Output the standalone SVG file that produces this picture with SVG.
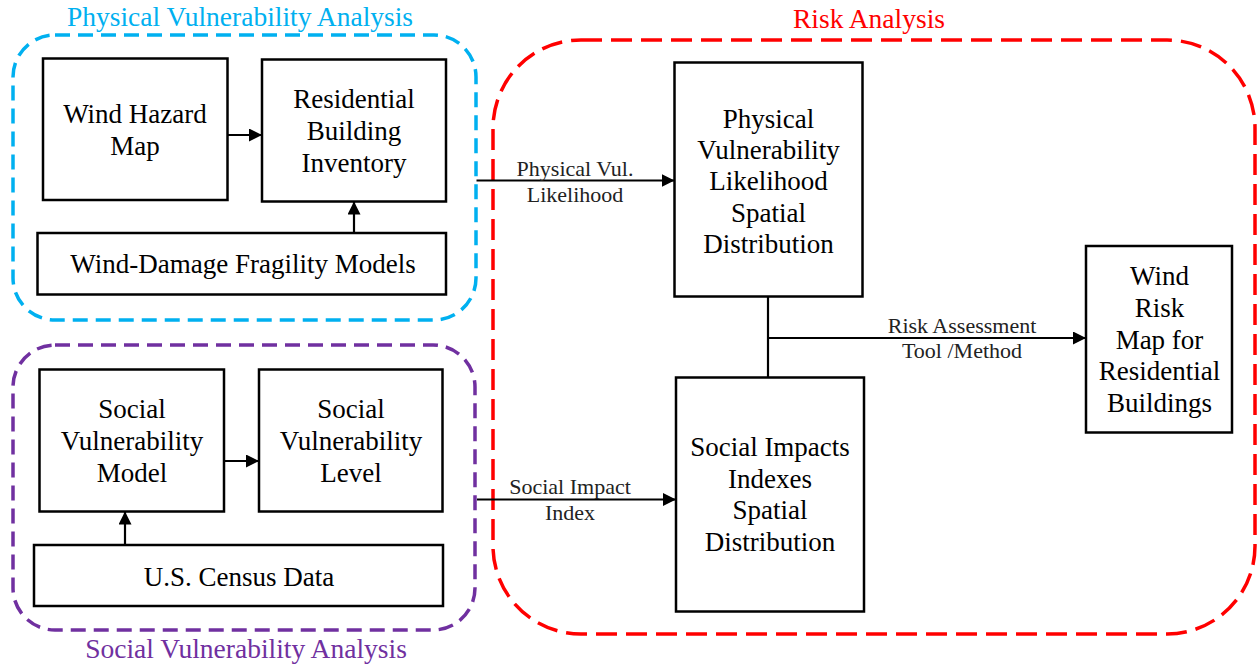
<svg xmlns="http://www.w3.org/2000/svg" width="1257" height="665" viewBox="0 0 1257 665">
<style>
  .box{fill:#fff;stroke:#000;stroke-width:2.5}
  .t{font-family:"Liberation Serif","Times New Roman",serif;font-size:27px;fill:#000;text-anchor:middle}
  .lbl{font-family:"Liberation Serif","Times New Roman",serif;font-size:22px;fill:#222;text-anchor:middle}
  .title{font-family:"Liberation Serif","Times New Roman",serif;font-size:27.5px;text-anchor:middle}
  .grp{fill:none;stroke-width:3.5}
  .conn{fill:none;stroke:#000;stroke-width:2.2}
</style>
<defs>
  <marker id="arr" markerUnits="userSpaceOnUse" markerWidth="13" markerHeight="13" refX="13" refY="6.5" orient="auto">
    <path d="M0,0 L13,6.5 L0,13 z" fill="#000"/>
  </marker>
</defs>
<rect width="1257" height="665" fill="#fff"/>

<g id="group-physical">
  <rect class="grp" x="13" y="35" width="463" height="285" rx="42" ry="42" stroke="#00B0F0" stroke-dasharray="15 8"/>
  <text class="title" x="240" y="26" fill="#00B0F0">Physical Vulnerability Analysis</text>
</g>
<g id="group-social">
  <rect class="grp" x="13" y="345" width="462" height="285" rx="42" ry="42" stroke="#7030A0" stroke-dasharray="15 8"/>
  <text class="title" x="246" y="658" fill="#7030A0">Social Vulnerability Analysis</text>
</g>
<g id="group-risk">
  <rect class="grp" x="493" y="40" width="762" height="594" rx="88" ry="88" stroke="#FF0000" stroke-dasharray="21 9"/>
  <text class="title" x="869" y="28" fill="#FF0000">Risk Analysis</text>
</g>

<g id="wind-hazard-map">
  <rect class="box" x="43" y="58.5" width="184.5" height="141.5"/>
  <text class="t" x="135" y="123">Wind Hazard</text>
  <text class="t" x="135" y="155">Map</text>
</g>
<g id="residential-building-inventory">
  <rect class="box" x="262" y="59.5" width="184" height="142"/>
  <text class="t" x="354" y="108">Residential</text>
  <text class="t" x="354" y="140">Building</text>
  <text class="t" x="354" y="172">Inventory</text>
</g>
<g id="wind-damage-fragility-models">
  <rect class="box" x="37.5" y="233" width="408.5" height="61.5"/>
  <text class="t" x="243" y="273">Wind-Damage Fragility Models</text>
</g>
<g id="social-vulnerability-model">
  <rect class="box" x="39.5" y="369.5" width="184.5" height="142"/>
  <text class="t" x="132" y="418">Social</text>
  <text class="t" x="132" y="449.5">Vulnerability</text>
  <text class="t" x="132" y="481.5">Model</text>
</g>
<g id="social-vulnerability-level">
  <rect class="box" x="259" y="369.5" width="183.5" height="142"/>
  <text class="t" x="351" y="418">Social</text>
  <text class="t" x="351" y="449.5">Vulnerability</text>
  <text class="t" x="351" y="481.5">Level</text>
</g>
<g id="us-census-data">
  <rect class="box" x="34" y="545" width="409" height="61"/>
  <text class="t" x="239" y="586">U.S. Census Data</text>
</g>
<g id="physical-vulnerability-likelihood">
  <rect class="box" x="674.5" y="62.5" width="188" height="234"/>
  <text class="t" x="768.5" y="127.5">Physical</text>
  <text class="t" x="768.5" y="158.5">Vulnerability</text>
  <text class="t" x="768.5" y="190">Likelihood</text>
  <text class="t" x="768.5" y="221.5">Spatial</text>
  <text class="t" x="768.5" y="252.5">Distribution</text>
</g>
<g id="social-impacts-indexes">
  <rect class="box" x="676" y="377.5" width="188" height="234"/>
  <text class="t" x="770" y="456">Social Impacts</text>
  <text class="t" x="770" y="487.5">Indexes</text>
  <text class="t" x="770" y="519">Spatial</text>
  <text class="t" x="770" y="550.5">Distribution</text>
</g>
<g id="wind-risk-map">
  <rect class="box" x="1086" y="246" width="146" height="186.5"/>
  <text class="t" x="1159.5" y="285">Wind</text>
  <text class="t" x="1159.5" y="317">Risk</text>
  <text class="t" x="1159.5" y="348.5">Map for</text>
  <text class="t" x="1159.5" y="380">Residential</text>
  <text class="t" x="1159.5" y="411.5">Buildings</text>
</g>

<g id="connectors">
  <line class="conn" x1="227.5" y1="135" x2="262" y2="135" marker-end="url(#arr)"/>
  <line class="conn" x1="354" y1="233" x2="354" y2="201.5" marker-end="url(#arr)"/>
  <line class="conn" x1="224" y1="461" x2="259" y2="461" marker-end="url(#arr)"/>
  <line class="conn" x1="125" y1="545" x2="125" y2="511.5" marker-end="url(#arr)"/>
  <line class="conn" x1="476.5" y1="180.5" x2="674.5" y2="180.5" marker-end="url(#arr)"/>
  <line class="conn" x1="477" y1="499.5" x2="676" y2="499.5" marker-end="url(#arr)"/>
  <line class="conn" x1="768" y1="296.5" x2="768" y2="377.5" stroke-width="1.8"/>
  <line class="conn" x1="768" y1="338" x2="1086" y2="338" marker-end="url(#arr)"/>
  <text class="lbl" x="575" y="175.5">Physical Vul.</text>
  <text class="lbl" x="575" y="201.5">Likelihood</text>
  <text class="lbl" x="570" y="493.5">Social Impact</text>
  <text class="lbl" x="570" y="519.5">Index</text>
  <text class="lbl" x="962" y="332.5">Risk Assessment</text>
  <text class="lbl" x="962" y="358">Tool /Method</text>
</g>
</svg>
